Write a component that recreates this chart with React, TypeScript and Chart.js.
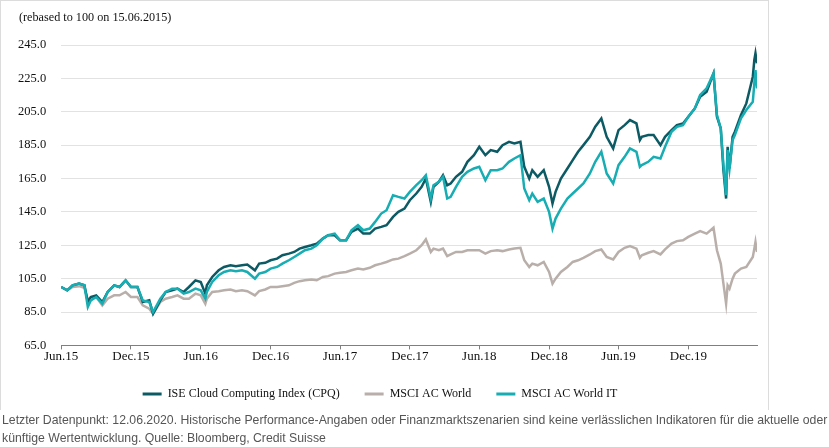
import React, { useEffect, useRef } from "react";
import { Chart, registerables } from "chart.js";

Chart.register(...registerables);

// ---- data (rebased to 100 on 15.06.2015) ----
const DATES = [
  "2015-06-15","2015-07-01","2015-07-15","2015-08-01","2015-08-15","2015-08-24","2015-09-01","2015-09-15",
  "2015-10-01","2015-10-15","2015-11-01","2015-11-15","2015-12-01","2015-12-15","2016-01-01","2016-01-15",
  "2016-02-01","2016-02-11","2016-03-01","2016-03-15","2016-04-01","2016-04-15","2016-05-01","2016-05-15",
  "2016-06-01","2016-06-15","2016-06-27","2016-07-01","2016-07-15","2016-08-01","2016-08-15","2016-09-01",
  "2016-09-15","2016-10-01","2016-10-15","2016-11-04","2016-11-15","2016-12-01","2016-12-15","2017-01-01",
  "2017-01-15","2017-02-01","2017-02-15","2017-03-01","2017-03-15","2017-04-01","2017-04-15","2017-05-01",
  "2017-05-15","2017-06-01","2017-06-15","2017-07-01","2017-07-15","2017-08-01","2017-08-15","2017-09-01",
  "2017-09-15","2017-10-01","2017-10-15","2017-11-01","2017-11-15","2017-12-01","2017-12-15","2018-01-01",
  "2018-01-15","2018-01-26","2018-02-08","2018-02-15","2018-03-01","2018-03-12","2018-03-23","2018-04-01",
  "2018-04-15","2018-05-01","2018-05-15","2018-06-01","2018-06-15","2018-07-01","2018-07-15","2018-08-01",
  "2018-08-15","2018-09-01","2018-09-15","2018-10-01","2018-10-11","2018-10-24","2018-11-01","2018-11-15",
  "2018-12-01","2018-12-15","2018-12-24","2019-01-01","2019-01-15","2019-02-01","2019-02-15","2019-03-01",
  "2019-03-15","2019-04-01","2019-04-15","2019-05-01","2019-05-15","2019-06-01","2019-06-15","2019-07-01",
  "2019-07-15","2019-08-01","2019-08-10","2019-08-15","2019-09-01","2019-09-15","2019-10-03","2019-10-15",
  "2019-11-01","2019-11-15","2019-12-01","2019-12-15","2020-01-01","2020-01-15","2020-02-01","2020-02-19",
  "2020-02-28","2020-03-09","2020-03-16","2020-03-23","2020-03-27","2020-04-01","2020-04-09","2020-04-15",
  "2020-05-01","2020-05-15","2020-06-01","2020-06-05","2020-06-08","2020-06-12",
];

const CPQ = [
  100, 98, 101, 102, 101, 91, 94, 95,
  91, 97, 101, 100, 104, 100, 100, 91,
  92, 84, 92, 97, 98, 99, 97, 100,
  104, 103, 96, 101, 106, 110, 112, 113,
  112.5, 113, 113.5, 110, 114, 114.5, 116, 117,
  119, 120, 121, 123, 124, 125, 126, 129,
  131, 131, 128, 128, 133, 135, 132, 132,
  135, 136, 137, 142, 145, 147, 152, 156,
  160, 165, 151, 160, 163, 167, 161, 162,
  166, 169, 175, 179, 184, 179, 182, 181,
  185, 187, 186, 187, 172, 165, 170, 166,
  170, 160, 150, 157, 165, 171, 176, 181,
  185, 190, 196, 201, 190, 183, 194, 197,
  200, 198, 188, 190, 191, 191, 185, 190,
  194, 197, 198, 202, 207, 214, 217, 228,
  202, 195, 170, 153, 184, 171, 190, 193,
  203, 210, 226, 236, 240, 234,
];

const MSCI_WORLD = [
  100, 98, 100, 100.5, 99.5, 92, 94, 94,
  89, 93, 95, 95, 97, 94, 94, 89,
  87, 84, 91, 93, 94, 95, 93, 93,
  96, 95, 90, 93, 97, 97.5, 98, 98.5,
  97.5, 98, 97.5, 95, 97.5, 98.5, 100, 100,
  100.5, 101, 102.5, 103.5, 104, 104.5, 104, 106,
  106.5, 108, 108.5, 109, 110, 111, 110.5, 111.5,
  113, 114, 115, 116.5, 117, 118.5, 120, 122,
  125, 128.5, 121, 123, 122, 123, 118.5, 119.5,
  121, 121, 122, 122, 122, 120, 121.5, 122,
  121.5, 122.5, 123, 123.5, 116, 112, 114, 113,
  115, 109, 102, 105, 109, 112, 115, 116,
  117.5, 119.5, 121.5, 122.5, 118, 116.5, 121, 123.5,
  124.5, 123, 117.5, 119, 120.5, 121.5, 119.5, 122.5,
  126, 127.5, 128, 130, 132, 133.5, 132, 135.5,
  122, 114, 102, 90, 101, 99, 105, 108,
  111, 112, 118, 123, 127, 121,
];

const MSCI_IT = [
  100, 98, 101, 102, 101, 88, 92, 94,
  90, 97, 101, 100, 104, 100, 100, 92,
  91, 85, 93, 97, 99, 99, 96, 97,
  99, 98, 93, 97, 103, 107, 109, 110,
  109.5, 110, 109, 105, 108, 109, 111, 112,
  114, 116, 118, 120, 122, 123, 125, 129,
  131, 132, 128, 128, 134, 137, 134, 135,
  139, 144, 146, 155, 154, 153, 157, 161,
  164, 167, 153, 161, 163, 166, 153, 154,
  160, 166, 169, 171, 172, 164, 170, 170,
  171, 175, 177, 179, 159, 152, 156, 151,
  153, 145, 135, 141, 147, 153, 156, 159,
  162, 168, 175, 181, 168, 162, 173, 178,
  183, 181, 172, 173, 175, 178, 177, 184,
  193, 196, 197, 202, 207, 215, 219, 228,
  203, 195, 173, 155, 182, 171, 188, 191,
  201, 206, 211, 222, 230, 219,
];

const SERIES_LABELS = ["ISE Cloud Computing Index (CPQ)", "MSCI AC World", "MSCI AC World IT"];
const SERIES_COLORS = ["#0c5a64", "#b9afaa", "#17adb3"];

const TICK_DATES = [
  "2015-06-15","2015-12-15","2016-06-15","2016-12-15","2017-06-15",
  "2017-12-15","2018-06-15","2018-12-15","2019-06-15","2019-12-15",
];
const TICK_LABELS = ["Jun.15","Dec.15","Jun.16","Dec.16","Jun.17","Dec.17","Jun.18","Dec.18","Jun.19","Dec.19"];

const Y_MIN = 65;
const Y_MAX = 245;
const Y_STEP = 20;

const SUBTITLE = "(rebased to 100 on 15.06.2015)";
const NOTE_1 = "Letzter Datenpunkt: 12.06.2020. Historische Performance-Angaben oder Finanzmarktszenarien sind keine verlässlichen Indikatoren für die aktuelle oder";
const NOTE_2 = "künftige Wertentwicklung. Quelle: Bloomberg, Credit Suisse";

const DAY_MS = 86400000;
const START_MS = Date.parse(DATES[0]);
const toDay = (d: string) => (Date.parse(d) - START_MS) / DAY_MS;

const SERIF = "'Liberation Serif', 'Times New Roman', serif";
const SANS = "'Liberation Sans', Arial, sans-serif";

export default function App() {
  const ref = useRef<HTMLCanvasElement | null>(null);

  useEffect(() => {
    if (!ref.current) return;
    const series = [CPQ, MSCI_WORLD, MSCI_IT];
    const orders = [1, 2, 0];
    const chart = new Chart(ref.current, {
      type: "line",
      data: {
        datasets: series.map((vals, k) => ({
          label: SERIES_LABELS[k],
          data: DATES.map((d, i) => ({ x: toDay(d), y: vals[i] })),
          borderColor: SERIES_COLORS[k],
          backgroundColor: SERIES_COLORS[k],
          borderWidth: 2.5,
          pointRadius: 0,
          tension: 0,
          order: orders[k],
        })),
      },
      options: {
        responsive: false,
        animation: false,
        events: [],
        layout: { padding: { left: 3, right: 12, top: 45, bottom: 6 } },
        plugins: {
          tooltip: { enabled: false },
          title: { display: false },
          legend: {
            display: true,
            position: "bottom",
            labels: {
              boxWidth: 19,
              boxHeight: 3,
              padding: 25,
              color: "#111",
              font: { family: SERIF, size: 12 },
              generateLabels: (c: any) =>
                c.data.datasets.map((ds: any, i: number) => ({
                  text: ds.label,
                  fillStyle: ds.borderColor,
                  strokeStyle: ds.borderColor,
                  lineWidth: 0,
                  hidden: false,
                  datasetIndex: i,
                  fontColor: "#111",
                })),
            },
          },
        },
        scales: {
          x: {
            type: "linear",
            min: 0,
            max: toDay(DATES[DATES.length - 1]),
            afterBuildTicks: (axis: any) => {
              axis.ticks = TICK_DATES.map((d) => ({ value: toDay(d) }));
            },
            ticks: {
              autoSkip: false,
              maxRotation: 0,
              padding: -1,
              color: "#111",
              font: { family: SERIF, size: 13 },
              callback: (_v: any, idx: number) => TICK_LABELS[idx],
            },
            grid: {
              drawOnChartArea: false,
              drawTicks: true,
              tickLength: 4,
              color: "#7f7f7f",
            },
            border: { display: true, color: "#7f7f7f", width: 1, z: 1 },
          },
          y: {
            type: "linear",
            min: Y_MIN,
            max: Y_MAX,
            ticks: {
              stepSize: Y_STEP,
              padding: 15,
              color: "#111",
              font: { family: SERIF, size: 12.5 },
              callback: (v: any) => Number(v).toFixed(1),
            },
            grid: { color: "#e2e2e2", drawTicks: false, lineWidth: 1 },
            border: { display: false },
          },
        },
      },
    });
    return () => chart.destroy();
  }, []);

  return (
    <div style={{ position: "absolute", left: 0, top: 0, width: 829, height: 447, background: "#fff" }}>
      <div
        style={{
          position: "absolute",
          left: 0,
          top: 0,
          width: 767,
          height: 409,
          borderTop: "1px solid #dcdcdc",
          borderLeft: "1px solid #dcdcdc",
          borderRight: "1px solid #dcdcdc",
        }}
      />
      <canvas ref={ref} width={769} height={416} style={{ position: "absolute", left: 0, top: 0 }} />
      <div
        style={{
          position: "absolute",
          left: 19,
          top: 10,
          fontFamily: SERIF,
          fontSize: 12.2,
          color: "#111",
          whiteSpace: "nowrap",
        }}
      >
        {SUBTITLE}
      </div>
      <div
        style={{
          position: "absolute",
          left: 2,
          top: 411,
          fontFamily: SANS,
          fontSize: 12.25,
          lineHeight: "18px",
          color: "#555",
          whiteSpace: "nowrap",
        }}
      >
        {NOTE_1}
        <br />
        {NOTE_2}
      </div>
    </div>
  );
}
